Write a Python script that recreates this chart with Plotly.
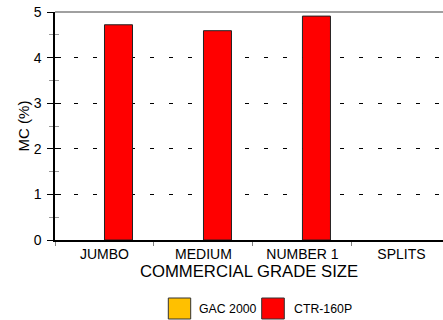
import plotly.graph_objects as go

categories = ["JUMBO", "MEDIUM", "NUMBER 1", "SPLITS"]
series_names = ["GAC 2000", "CTR-160P"]
gac_2000 = [None, None, None, None]
ctr_160p = [4.72, 4.59, 4.91, None]
series_colors = ["#FFC000", "#FF0000"]
y_ticks = [0, 1, 2, 3, 4, 5]

W, H = 443, 320
# plot area in page pixels
L, R_PX, T, B = 55, 443, 12, 240

FONT = "Arial, Liberation Sans, sans-serif"

fig = go.Figure()
for name, vals, col in zip(series_names, [gac_2000, ctr_160p], series_colors):
    fig.add_trace(go.Bar(
        x=categories, y=vals, name=name, showlegend=False,
        marker=dict(color=col, line=dict(color="#222222", width=1)),
    ))

# invisible trace on an overlaid axis, used to draw the inner half of the y ticks
fig.add_trace(go.Scatter(x=[categories[0]], y=[None], yaxis="y2", showlegend=False,
                         hoverinfo="skip", mode="markers"))

def px_x(p):
    return (p - L) / (R_PX - L)

def px_y(p):
    return (B - p) / (B - T)

shapes = [dict(type="line", xref="paper", yref="paper", x0=0, x1=1, y0=1, y1=1,
               line=dict(color="#808080", width=1.5))]
annotations = []
legend_items = [(168.3, 190.7, 196.7), (261.7, 284.3, 291.7)]
for (x0, x1, tx), name, col in zip(legend_items, series_names, series_colors):
    shapes.append(dict(type="rect", xref="paper", yref="paper",
                       x0=px_x(x0), x1=px_x(x1), y0=px_y(319), y1=px_y(298),
                       fillcolor=col, line=dict(color="#333333", width=1)))
    annotations.append(dict(xref="paper", yref="paper", x=px_x(tx), y=px_y(308.5),
                            xanchor="left", yanchor="middle", text=name, showarrow=False,
                            font=dict(size=12.3, color="#000000", family=FONT)))

fig.update_layout(
    width=W, height=H,
    margin=dict(l=L, r=W - R_PX, t=T, b=H - B),
    paper_bgcolor="white", plot_bgcolor="white",
    barmode="group", bargap=0.434, bargroupgap=0,
    font=dict(family=FONT, color="#000000"),
    shapes=shapes, annotations=annotations,
    xaxis=dict(
        type="category", range=[-0.5, 3.42],
        showline=True, linecolor="#000000", linewidth=1.5,
        ticks="outside", ticklen=4, tickcolor="#808080", tickwidth=1,
        tickson="boundaries", showgrid=False,
        tickfont=dict(size=14, family=FONT),
        title=dict(text="COMMERCIAL GRADE SIZE", font=dict(size=16.7, family=FONT), standoff=2),
    ),
    yaxis=dict(
        range=[0, 5], tickvals=y_ticks,
        showline=True, linecolor="#000000", linewidth=1.5,
        ticks="outside", ticklen=6, tickcolor="#000000", tickwidth=1.2,
        minor=dict(dtick=0.5, ticks="outside", ticklen=4, tickcolor="#9a9a9a", showgrid=False),
        showgrid=True, gridcolor="#000000", gridwidth=1, griddash="4px,15px",
        zeroline=False, ticklabelstandoff=3,
        tickfont=dict(size=14, family=FONT),
        title=dict(text="MC (%)", font=dict(size=15, family=FONT), standoff=0),
    ),
    yaxis2=dict(
        overlaying="y", range=[0, 5], tickvals=y_ticks, side="left",
        ticks="inside", ticklen=6, tickcolor="#000000", tickwidth=1.2,
        minor=dict(dtick=0.5, ticks="inside", ticklen=4, tickcolor="#9a9a9a", showgrid=False),
        showticklabels=False, showgrid=False, zeroline=False, showline=False,
    ),
)

fig.write_html("out.html", config={"displayModeBar": False},
               post_script="document.body.style.margin='0';document.body.style.overflow='hidden';")
